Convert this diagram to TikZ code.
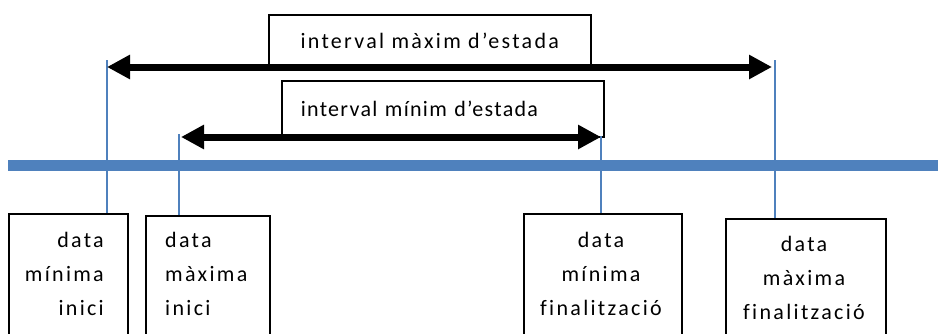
\documentclass[tikz,border=0pt]{standalone}
\usepackage{fontspec}
\setmainfont{Carlito}[LetterSpace=10.5,Ligatures=NoCommon]
\usetikzlibrary{arrows.meta}
\definecolor{offblue}{RGB}{79,129,189}
\begin{document}
\begin{tikzpicture}[x=1pt,y=-1pt,
  txt/.style={font=\fontsize{22}{34}\selectfont, inner sep=0pt},
  box/.style={draw, line width=1.5pt, anchor=north west, inner sep=0pt},
  tick/.style={draw=offblue, line width=1.5pt},
  span/.style={line width=7pt, {Triangle[length=23pt,width=23pt]}-{Triangle[length=23pt,width=23pt]}}]
\useasboundingbox (0,0) rectangle (938,333);
\clip (0,0) rectangle (938,333);
% timeline
\coordinate (tl) at (8,165);
\coordinate (tr) at (938,165);
\draw[draw=offblue, line width=11pt] (tl) -- (tr);
% interval boxes
\node[box, txt, minimum width=322pt, minimum height=52pt, text width=322pt, align=center] (imax) at (268,14) {interval màxim d’estada};
\node[box, txt, minimum height=56pt, inner xsep=19pt, text width=284pt, align=left] (imin) at (281,80) {\addfontfeature{LetterSpace=6}interval mínim d’estada};
% date boxes
\node[box, minimum width=119pt, minimum height=140pt] (b1) at (8,213) {};
\node[box, minimum width=124pt, minimum height=140pt] (b2) at (145,215) {};
\node[box, minimum width=158pt, minimum height=140pt] (b3) at (523,213) {};
\node[box, minimum width=160pt, minimum height=140pt] (b4) at (725,218) {};
\node[txt, anchor=north east, align=right] (l1) at (104,232) {data\\mínima\\inici};
\node[txt, anchor=north west, align=left] (l2) at (165,232) {data\\màxima\\inici};
\node[txt, anchor=north, align=center] (l3) at (601,232) {data\\mínima\\finalització};
\node[txt, anchor=north, align=center] (l4) at (804,236) {data\\màxima\\finalització};
% tick tops
\coordinate (k1) at (107,60);
\coordinate (k2) at (179,134);
\coordinate (k3) at (601,136);
\coordinate (k4) at (775,60);
\draw[tick] (k1) -- (k1 |- b1.north);
\draw[tick] (k2) -- (k2 |- b2.north);
\draw[tick] (k3) -- (k3 |- b3.north);
\draw[tick] (k4) -- (k4 |- b4.north);
% arrows
\coordinate (a1l) at (107,67);
\coordinate (a1r) at (772,67);
\coordinate (a2l) at (181,137);
\coordinate (a2r) at (601,137);
\draw[span] (a1l) -- (a1r);
\draw[span] (a2l) -- (a2r);
\end{tikzpicture}
\end{document}
